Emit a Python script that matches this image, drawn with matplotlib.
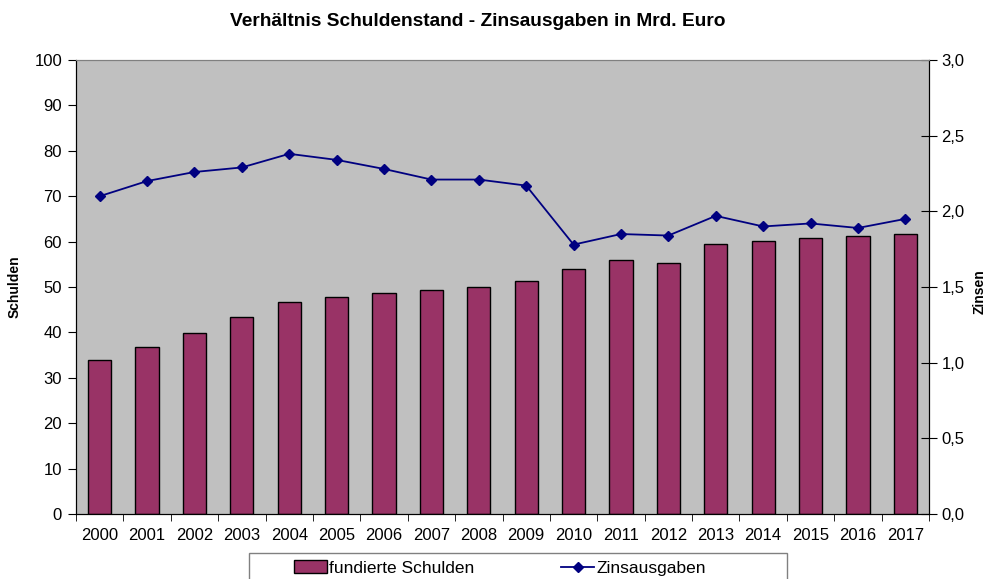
import matplotlib.pyplot as plt
import matplotlib.ticker as mticker
from matplotlib.patches import Rectangle
import numpy as np

plt.rcParams['font.family'] = ['Liberation Sans', 'DejaVu Sans']

years = ['2000', '2001', '2002', '2003', '2004', '2005', '2006', '2007', '2008',
         '2009', '2010', '2011', '2012', '2013', '2014', '2015', '2016', '2017']
schulden = [34.0, 36.8, 39.9, 43.3, 46.6, 47.8, 48.7, 49.4, 50.1,
            51.4, 54.0, 55.9, 55.3, 59.5, 60.2, 60.7, 61.2, 61.7]
zinsen = [2.10, 2.20, 2.26, 2.29, 2.38, 2.34, 2.28, 2.21, 2.21,
          2.17, 1.78, 1.85, 1.84, 1.97, 1.90, 1.92, 1.89, 1.95]

x = np.arange(len(years))

fig = plt.figure(figsize=(9.86, 5.79), dpi=100)
ax = fig.add_axes([76/986, 1-514/579, (929-76)/986, (514-60)/579])
ax.set_facecolor('#C0C0C0')

bars = ax.bar(x, schulden, width=0.49, color='#993366', edgecolor='black',
              linewidth=1.0, label='fundierte Schulden', zorder=2)
ax.set_xlim(-0.5, len(years) - 0.5)
ax.set_ylim(0, 100)
ax.yaxis.set_major_locator(mticker.MultipleLocator(10))
ax.set_xticks(x)
ax.set_xticklabels(years, fontsize=12)
ax.xaxis.set_minor_locator(mticker.FixedLocator(np.arange(-0.5, len(years), 1)))
ax.tick_params(axis='x', which='major', length=0, pad=10)
ax.tick_params(axis='x', which='minor', length=5, direction='out')
ax.tick_params(axis='y', labelsize=12, length=6, direction='out', pad=4)
ax.set_ylabel('Schulden', fontsize=10, fontweight='bold', ha='center', va='center')
ax.yaxis.set_label_coords(-0.0715, 0.5)

ax2 = ax.twinx()
line, = ax2.plot(x, zinsen, color='#000080', marker='D', markersize=5.5,
                 linewidth=1.3, label='Zinsausgaben', zorder=3)
ax2.set_ylim(0, 3)
ax2.yaxis.set_major_locator(mticker.MultipleLocator(0.5))
ax2.yaxis.set_major_formatter(mticker.FuncFormatter(lambda v, p: f'{v:.1f}'.replace('.', ',')))
ax2.tick_params(axis='y', labelsize=12, length=12, direction='inout', pad=3)
ax2.set_ylabel('Zinsen', fontsize=10, fontweight='bold', rotation=90,
               ha='center', va='center')
ax2.yaxis.set_label_coords((980-76)/853, 0.49)

for a in (ax, ax2):
    a.spines['top'].set_color('#808080')
    a.spines['left'].set_color('black')
    a.spines['right'].set_color('black')
    a.spines['bottom'].set_color('black')

fig.text(478/986, 1-21/579, 'Verhältnis Schuldenstand - Zinsausgaben in Mrd. Euro',
         ha='center', va='center', fontsize=13.8, fontweight='bold')

# legend box running off the bottom edge, as in the reference
fig.patches.append(Rectangle((249/986, -0.05), (787-249)/986, 0.05 + 26/579,
                             transform=fig.transFigure, facecolor='white',
                             edgecolor='#808080', linewidth=1.0))
leg = fig.legend(handles=[bars, line], loc='center left',
                 bbox_to_anchor=(285/986, 1-568/579), ncol=2, fontsize=12.5,
                 frameon=False, borderpad=0, handlelength=1.9,
                 handletextpad=0.15, columnspacing=5.0)

fig.savefig('out.png', dpi=100)
